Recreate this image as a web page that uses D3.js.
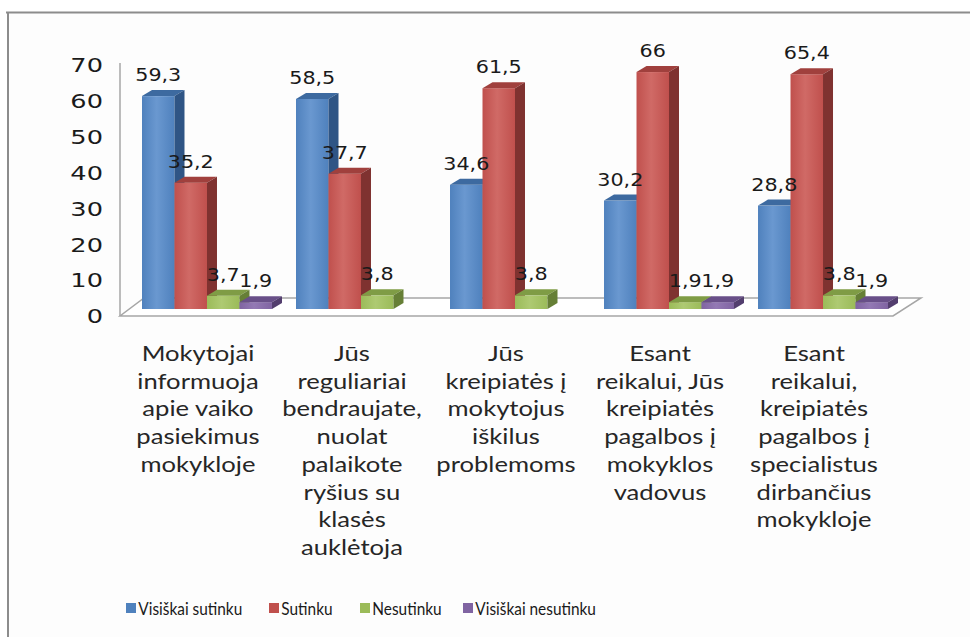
<!DOCTYPE html>
<meta charset="utf-8">
<style>
  body { margin: 0; background: #fff; }
  svg { display: block; }
</style>
<body>
<svg width="970" height="637"></svg>
<script src="https://d3js.org/d3.v7.min.js"></script>
<script>
// data
var categories = [
  ["Mokytojai", "informuoja", "apie vaiko", "pasiekimus", "mokykloje"],
  ["Jūs", "reguliariai", "bendraujate,", "nuolat", "palaikote", "ryšius su", "klasės", "auklėtoja"],
  ["Jūs", "kreipiatės į", "mokytojus", "iškilus", "problemoms"],
  ["Esant", "reikalui,  Jūs", "kreipiatės", "pagalbos į", "mokyklos", "vadovus"],
  ["Esant", "reikalui,", "kreipiatės", "pagalbos į", "specialistus", "dirbančius", "mokykloje"]
];
var seriesNames = ["Visiškai sutinku", "Sutinku", "Nesutinku", "Visiškai nesutinku"];
var visiskaiSutinku = [59.3, 58.5, 34.6, 30.2, 28.8];
var sutinku = [35.2, 37.7, 61.5, 66, 65.4];
var nesutinku = [3.7, 3.8, 3.8, 1.9, 3.8];
var visiskaiNesutinku = [1.9, 0, 0, 1.9, 1.9];
var yTicks = [0, 10, 20, 30, 40, 50, 60, 70];

var seriesValues = [visiskaiSutinku, sutinku, nesutinku, visiskaiNesutinku];

// colours: front, top, side
var palette = [
  {front: "#4f81bd", light: "#6a98d0", top: "#3d6aa0", side: "#2f5585"},
  {front: "#c0504d", light: "#d06a66", top: "#a0403d", side: "#7f3230"},
  {front: "#9bbb59", light: "#aeca72", top: "#7f9c45", side: "#667f36"},
  {front: "#8064a2", light: "#9379b4", top: "#684f88", side: "#533e6e"}
];

var svg = d3.select("svg");
var catIds = categories.map(function (c, i) { return i; });

// frame
svg.append("rect").attr("x", 8).attr("y", 13).attr("width", 970).attr("height", 640)
  .attr("fill", "#fdfdfd");
svg.append("line").attr("x1", 6).attr("x2", 970).attr("y1", 12.5).attr("y2", 12.5)
  .attr("stroke", "#8c8c8c").attr("stroke-width", 2);
svg.append("line").attr("x1", 8).attr("x2", 8).attr("y1", 12).attr("y2", 637)
  .attr("stroke", "#8c8c8c").attr("stroke-width", 2);

// scales
var x = d3.scaleBand().domain(catIds).range([142, 888]).paddingInner(0.156).paddingOuter(0);
var xs = d3.scaleBand().domain(d3.range(seriesNames.length)).range([0, x.bandwidth()]);
var y = d3.scaleLinear().domain([0, 70]).range([309, 57.7]);      // bars (mid depth)
var yFront = d3.scaleLinear().domain([0, 70]).range([316, 65]);   // front plane for ticks

var depth = {dx: 10, dy: -6};   // bar depth
var floorFront = {x0: 120, x1: 893, y: yFront(0)};
var floorBack = {dx: 26, dy: -18};

// gradients for the bar fronts
var defs = svg.append("defs");
palette.forEach(function (p, i) {
  var g = defs.append("linearGradient").attr("id", "grad" + i)
    .attr("x1", "0%").attr("x2", "100%").attr("y1", "0%").attr("y2", "0%");
  g.append("stop").attr("offset", "0%").attr("stop-color", p.front);
  g.append("stop").attr("offset", "45%").attr("stop-color", p.light);
  g.append("stop").attr("offset", "100%").attr("stop-color", p.front);
});

// floor
var fl = [
  [floorFront.x0, floorFront.y],
  [floorFront.x1, floorFront.y],
  [floorFront.x1 + floorBack.dx + 2, floorFront.y + floorBack.dy],
  [floorFront.x0 + floorBack.dx - 2, floorFront.y + floorBack.dy]
];
svg.append("polygon").attr("points", fl.join(" "))
  .attr("fill", "#ffffff").attr("stroke", "#a6a6a6").attr("stroke-width", 1.5);

// vertical axis line
svg.append("line").attr("x1", 120).attr("x2", 120)
  .attr("y1", yFront(70) - 2).attr("y2", yFront(0))
  .attr("stroke", "#a6a6a6").attr("stroke-width", 1.5);

// y tick labels
var yAxis = svg.append("g").attr("transform", "translate(103,0)")
  .call(d3.axisLeft(yFront).tickValues(yTicks).tickSize(0).tickPadding(0));
yAxis.select(".domain").remove();
yAxis.selectAll("text")
  .attr("font-family", "'DejaVu Sans', Verdana, sans-serif")
  .attr("font-size", 19).attr("fill", "#1a1a1a")
  .attr("dy", "0.36em")
  .attr("transform", "scale(1.35,1)");

// bars
var bars = [];
catIds.forEach(function (c) {
  seriesValues.forEach(function (vals, s) {
    bars.push({cat: c, s: s, v: vals[c]});
  });
});

var barG = svg.append("g");
bars.forEach(function (d) {
  if (d.v <= 0) return;
  var x0 = x(d.cat) + xs(d.s), w = xs.bandwidth();
  var yt = y(d.v), yb = y(0);
  var p = palette[d.s];
  var g = barG.append("g");
  g.append("rect").attr("x", x0).attr("y", yt).attr("width", w).attr("height", yb - yt)
    .attr("fill", "url(#grad" + d.s + ")");
  g.append("polygon").attr("points", [
      [x0, yt], [x0 + w, yt], [x0 + w + depth.dx, yt + depth.dy], [x0 + depth.dx, yt + depth.dy]
    ].join(" ")).attr("fill", p.top);
  g.append("polygon").attr("points", [
      [x0 + w, yt], [x0 + w + depth.dx, yt + depth.dy], [x0 + w + depth.dx, yb + depth.dy], [x0 + w, yb]
    ].join(" ")).attr("fill", p.side);
});

// value labels
svg.append("g").selectAll("text")
  .data(bars.filter(function (d) { return d.v > 0; }))
  .join("text")
    .attr("transform", function (d) {
      return "translate(" + (x(d.cat) + xs(d.s) + xs.bandwidth() / 2) + "," + (y(d.v) - 15) + ") scale(1.15,1)";
    })
    .attr("text-anchor", "middle")
    .attr("font-family", "'DejaVu Sans', Verdana, sans-serif")
    .attr("font-size", 18).attr("fill", "#1a1a1a")
    .text(function (d) { return String(d.v).replace(".", ","); });

// category labels
var catG = svg.append("g").selectAll("g")
  .data(categories)
  .join("g")
    .attr("transform", function (d, i) { return "translate(" + (x(i) + 56) + ",361)"; });
catG.selectAll("text")
  .data(function (d) { return d; })
  .join("text")
    .attr("transform", function (d, j) { return "translate(0," + (j * 27.7) + ") scale(1.22,1)"; })
    .attr("text-anchor", "middle")
    .attr("font-family", "Lato, 'Open Sans', sans-serif")
    .attr("font-size", 21).attr("fill", "#262626")
    .text(function (d) { return d; });

// legend
var legendX = [126, 269, 360, 463];
var leg = svg.append("g").selectAll("g")
  .data(seriesNames)
  .join("g")
    .attr("transform", function (d, i) { return "translate(" + legendX[i] + ",603)"; });
leg.append("rect").attr("width", 10).attr("height", 10)
  .attr("fill", function (d, i) { return palette[i].front; });
leg.append("text").attr("x", 14).attr("y", 11.5)
  .attr("transform", "scale(0.88,1)")
  .attr("font-family", "Lato, sans-serif").attr("font-size", 17.5).attr("fill", "#1a1a1a")
  .text(function (d) { return d; });
</script>
